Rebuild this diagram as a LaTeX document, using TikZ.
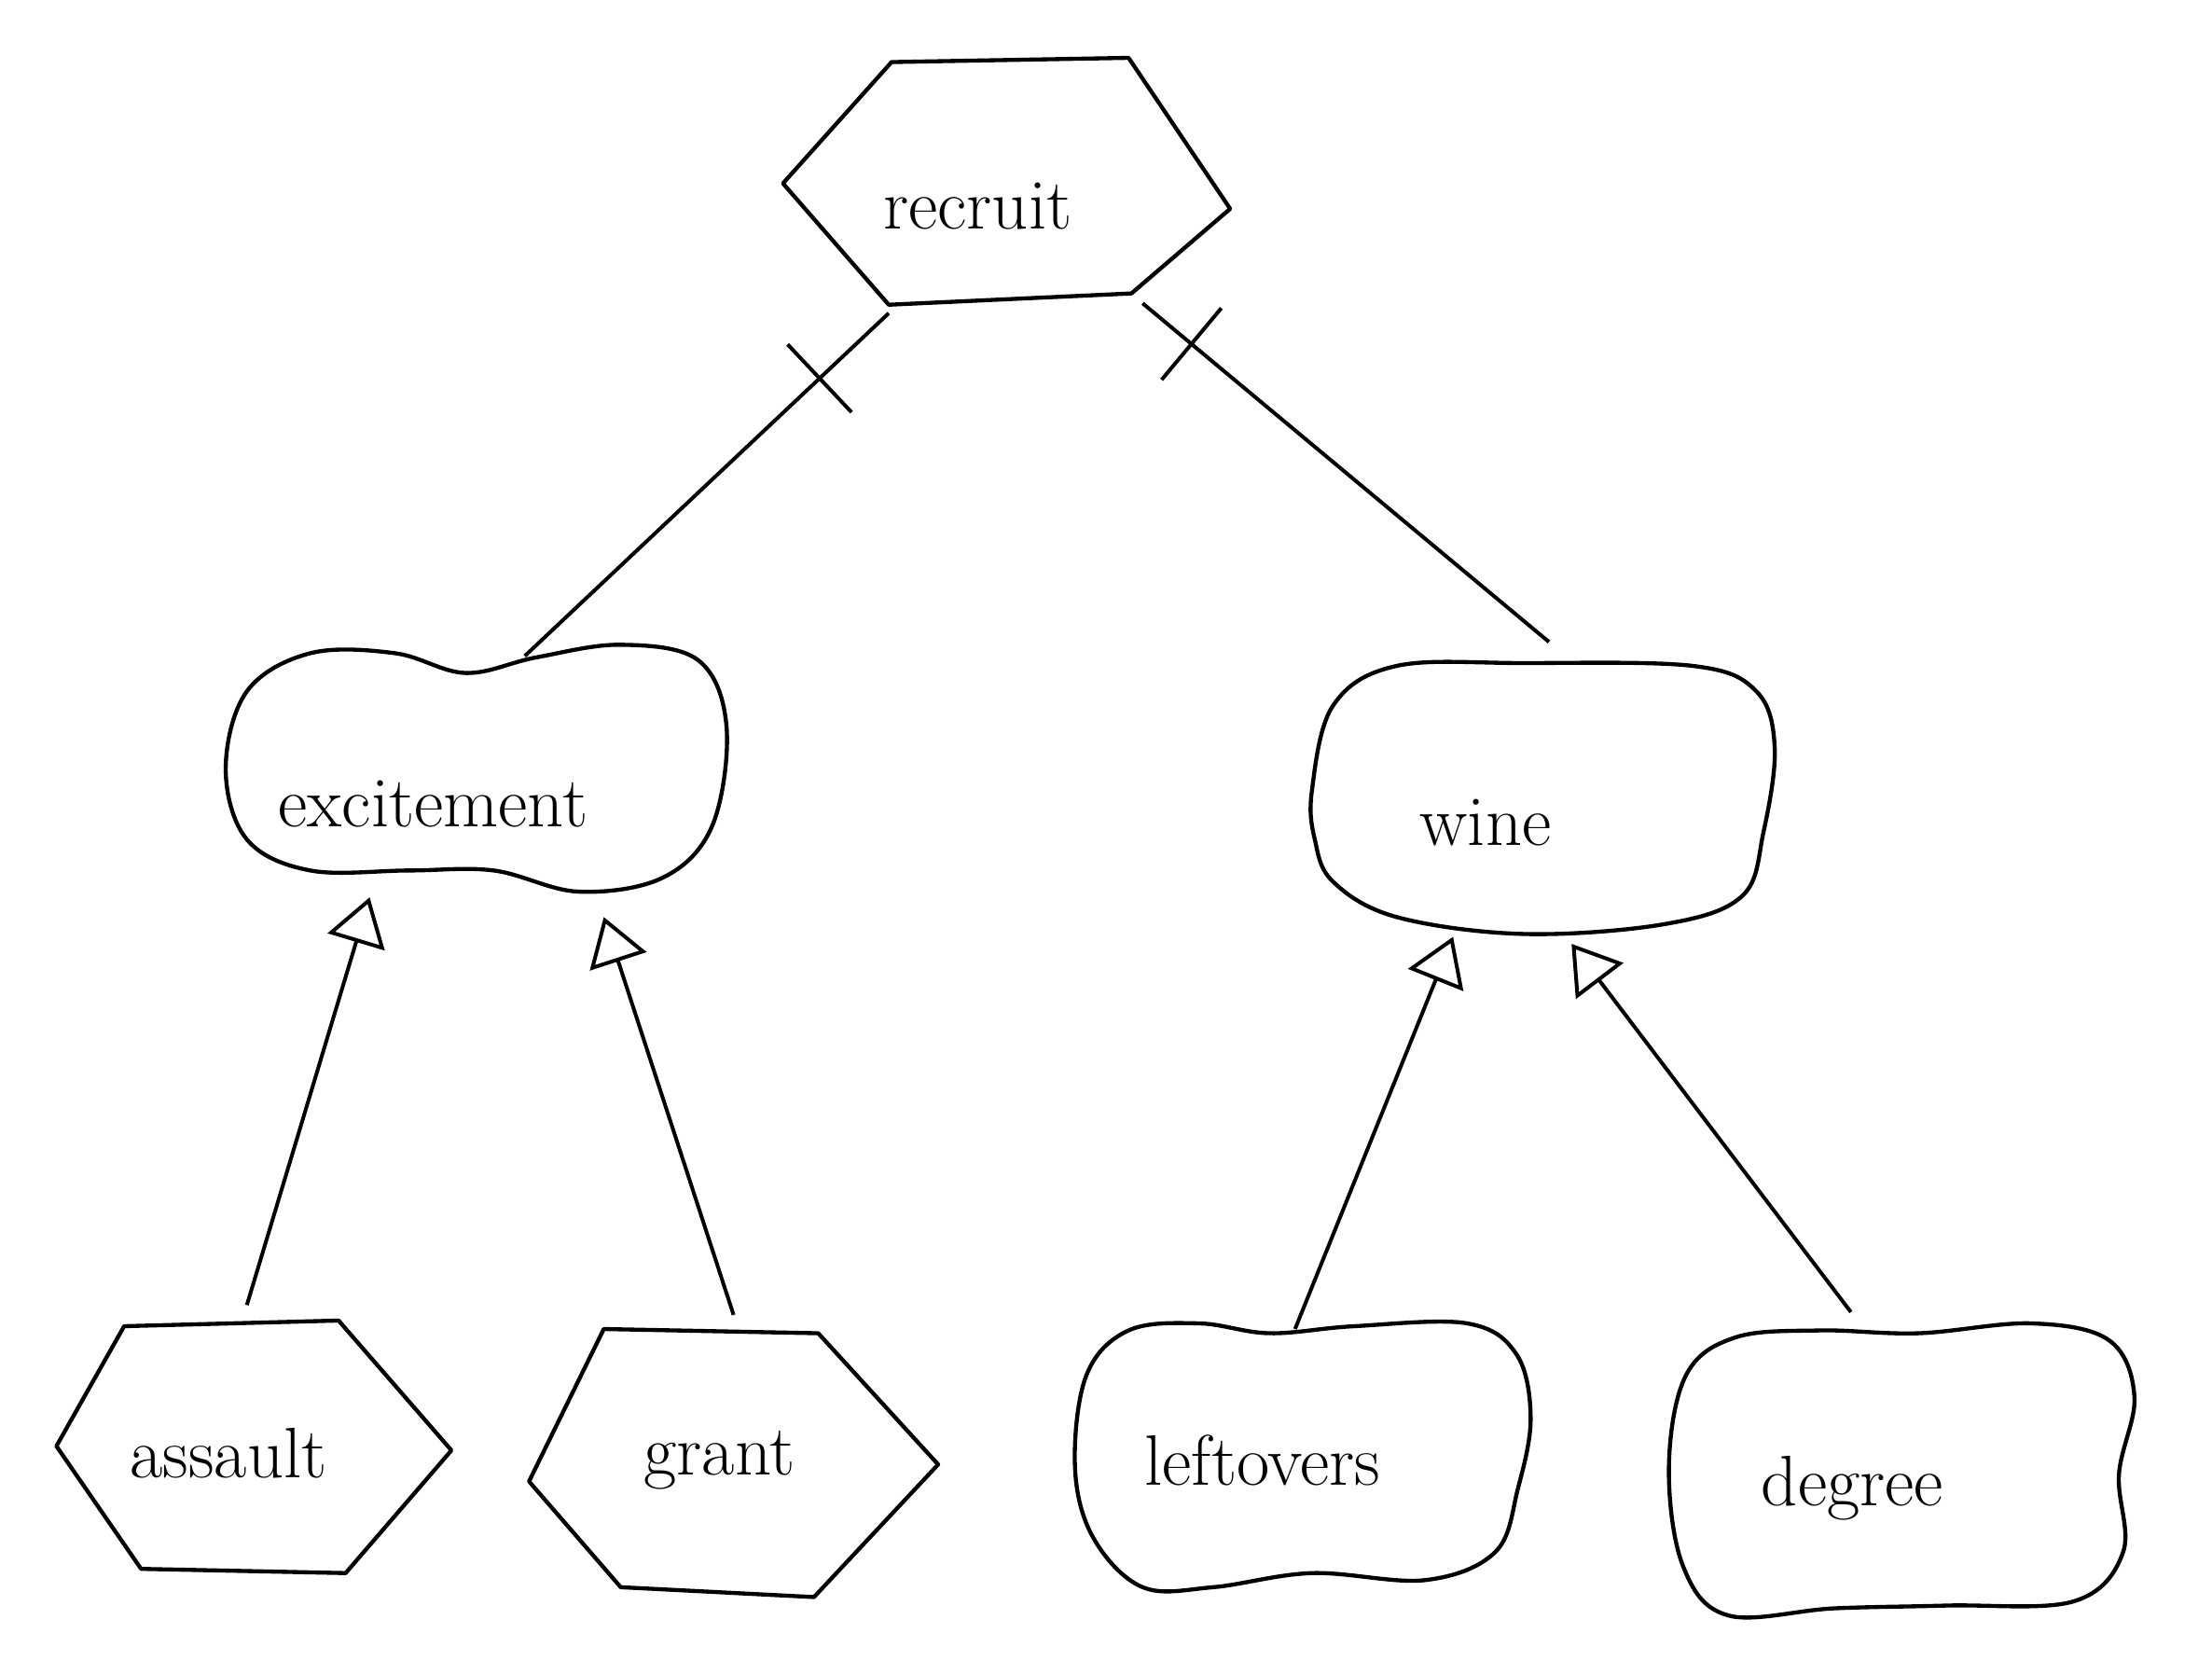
\documentclass[tikz,border=0pt]{standalone}
\usetikzlibrary{arrows.meta,decorations.markings}
\begin{document}
\begin{tikzpicture}[x=0.4538pt,y=-0.4538pt,
  shapeline/.style={line width=1.3pt,line join=round,line cap=round},
  lbl/.style={font=\fontsize{23}{27}\selectfont,inner sep=0pt},
  conn/.style={line width=1.2pt},
  gen/.style={conn,-{Triangle[open,length=15pt,width=19pt,line width=1.2pt]}},
  barred/.style={conn,decoration={markings,mark=at position #1 with {\draw[line width=1.2pt] (0,-15pt)--(0,15pt);}},postaction={decorate}}
]
\useasboundingbox (0,0) rectangle (1568,1177);
% recruit hexagon
\draw[shapeline] (555,130)--(632,44)--(800,41)--(872,148)--(802,208)--(630,216)--cycle;
\node[lbl] (recruit) at (693,146) {recruit};
% assault hexagon
\draw[shapeline] (40,1025)--(88,940)--(240,936)--(320,1028)--(245,1115)--(100,1112)--cycle;
\node[lbl] (assault) at (162,1030) {assault};
% grant hexagon
\draw[shapeline] (375,1050)--(428,942)--(580,945)--(665,1038)--(577,1132)--(440,1125)--cycle;
\node[lbl] (grant) at (510,1035) {grant};
% excitement blob
\draw[shapeline] plot[smooth cycle,tension=0.6] coordinates {(160,545) (175,490) (220,463) (280,463) (330,477) (380,466) (440,457) (495,468) (515,515) (505,585) (470,622) (410,632) (350,617) (290,617) (220,617) (175,595)};
\node[lbl] (excitement) at (307,570) {excitement};
% wine blob
\draw[shapeline] plot[smooth cycle,tension=0.6] coordinates {(930,560) (945,500) (990,472) (1080,470) (1200,472) (1245,490) (1258,530) (1250,590) (1235,635) (1180,655) (1080,662) (990,650) (945,625) (932,595)};
\node[lbl] (wine) at (1053,583) {wine};
% leftovers blob
\draw[shapeline] plot[smooth cycle,tension=0.6] coordinates {(762,1040) (770,975) (800,943) (850,938) (900,945) (960,940) (1040,938) (1075,960) (1085,1005) (1076,1055) (1060,1100) (1010,1120) (930,1115) (860,1125) (810,1125) (775,1090)};
\node[lbl] (leftovers) at (895,1035) {leftovers};
% degree blob
\draw[shapeline] plot[smooth cycle,tension=0.6] coordinates {(1183,1040) (1195,975) (1230,948) (1290,943) (1360,945) (1440,938) (1495,950) (1513,990) (1502,1045) (1505,1100) (1470,1135) (1380,1138) (1300,1140) (1225,1145) (1193,1110)};
\node[lbl] (degree) at (1313,1055) {degree};
% connector end points
\coordinate (recBL) at (630,222);
\coordinate (recBR) at (810,215);
\coordinate (excT) at (372,465);
\coordinate (winT) at (1098,455);
\coordinate (excA) at (262,636);
\coordinate (excB) at (428,650);
\coordinate (winA) at (1030,664);
\coordinate (winB) at (1114,669);
\coordinate (assT) at (175,925);
\coordinate (graT) at (520,932);
\coordinate (lefT) at (918,942);
\coordinate (degT) at (1312,930);
% connectors
\draw[barred=0.81] (excT) -- (recBL);
\draw[barred=0.88] (winT) -- (recBR);
\draw[gen] (assT) -- (excA);
\draw[gen] (graT) -- (excB);
\draw[gen] (lefT) -- (winA);
\draw[gen] (degT) -- (winB);
\end{tikzpicture}
\end{document}
